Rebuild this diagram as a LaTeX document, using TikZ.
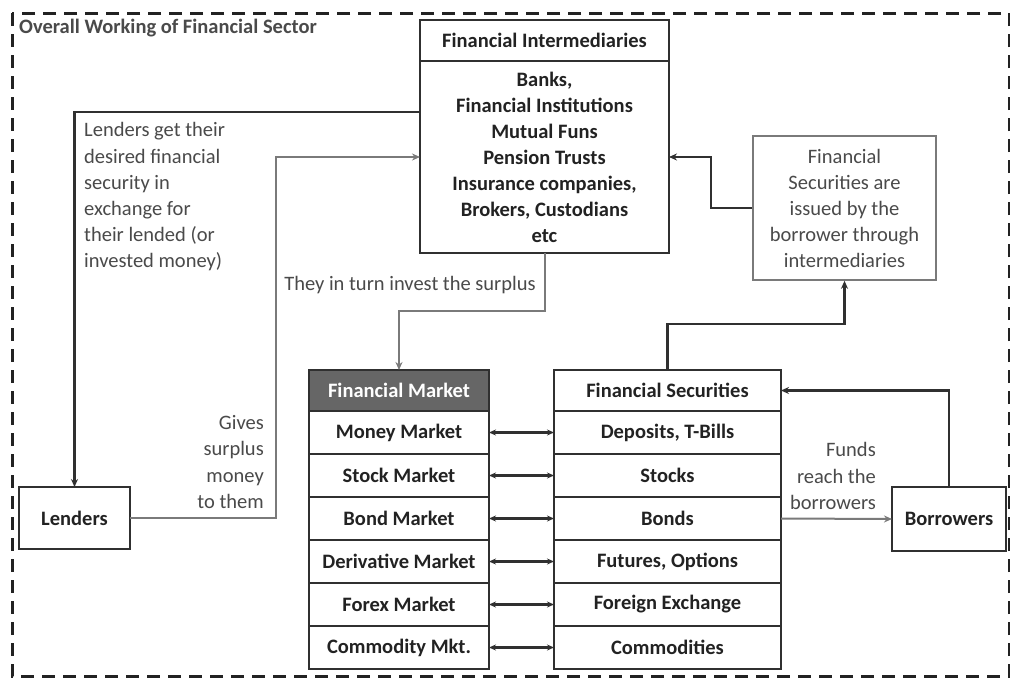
\documentclass[tikz,border=0pt]{standalone}
\usepackage{fontspec}
\setmainfont{Carlito}
\usetikzlibrary{arrows.meta,positioning}
\definecolor{ink}{HTML}{222222}
\definecolor{linedark}{HTML}{303030}
\definecolor{linegray}{HTML}{7A7A7A}
\definecolor{txtgray}{HTML}{4A4A4A}
\definecolor{hdrfill}{HTML}{666666}
\tikzset{
  box/.style={draw=linedark, line width=2.6pt, text=ink, font=\fontsize{20.5}{26}\selectfont\bfseries, align=center, inner sep=0pt, outer sep=0pt},
  thinbox/.style={draw=linegray, line width=1.6pt, text=txtgray, font=\fontsize{20.5}{26}\selectfont, align=center, inner sep=0pt},
  note/.style={text=txtgray, font=\fontsize{20.5}{26.2}\selectfont, inner sep=0pt},
  darr/.style={draw=linedark, line width=2.4pt, -{Stealth[length=8pt,width=7pt]}},
  garr/.style={draw=linegray, line width=2pt, -{Stealth[length=8pt,width=7pt]}},
  dbl/.style={draw=linedark, line width=2.2pt, {Stealth[length=7pt,width=6pt]}-{Stealth[length=7pt,width=6pt]}},
}
\begin{document}
\begin{tikzpicture}[x=1pt,y=-1pt]
\useasboundingbox (0,0) rectangle (1010,678);
\fill[white] (0,0) rectangle (1010,678);
% frame
\draw[draw=ink, line width=3pt, dash pattern=on 13pt off 8pt] (12,13) rectangle (1009,676);
\node[anchor=west, text=txtgray, font=\fontsize{20.5}{22}\selectfont\bfseries, inner sep=0pt] (title) at (19,28) {Overall Working of Financial Sector};

% Financial intermediaries
\node[box, minimum width=249pt, minimum height=41pt] (fihead) at (544.5,40.5) {Financial Intermediaries};
\node[box, minimum width=249pt, minimum height=192pt] (fibody) at (544.5,157) {Banks,\\Financial Institutions\\Mutual Funs\\Pension Trusts\\Insurance companies,\\Brokers, Custodians\\etc};

% issued box
\node[thinbox, minimum width=183pt, minimum height=144pt] (issued) at (844.5,208) {Financial\\Securities are\\issued by the\\borrower through\\intermediaries};

% lenders / borrowers
\node[box, minimum width=111pt, minimum height=62pt] (lenders) at (74.5,518) {Lenders};
\node[box, minimum width=114pt, minimum height=64pt] (borrowers) at (949,519) {Borrowers};

% Financial market column
\node[box, fill=hdrfill, text=white, minimum width=180pt, minimum height=41pt] (mkthead) at (399,390.5) {Financial Market};
\node[box, minimum width=180pt, minimum height=43pt] (m1) at (399,432.5) {Money Market};
\node[box, minimum width=180pt, minimum height=43pt] (m2) at (399,475.5) {Stock Market};
\node[box, minimum width=180pt, minimum height=43pt] (m3) at (399,518.5) {Bond Market};
\node[box, minimum width=180pt, minimum height=43pt] (m4) at (399,561.5) {Derivative Market};
\node[box, minimum width=180pt, minimum height=43pt] (m5) at (399,604.5) {Forex Market};
\node[box, minimum width=180pt, minimum height=43pt] (m6) at (399,647.5) {Commodity Mkt.};

% Financial securities column
\node[box, minimum width=227pt, minimum height=41pt] (sechead) at (667.5,390.5) {Financial Securities};
\node[box, minimum width=227pt, minimum height=43pt] (s1) at (667.5,432.5) {Deposits, T-Bills};
\node[box, minimum width=227pt, minimum height=43pt] (s2) at (667.5,475.5) {Stocks};
\node[box, minimum width=227pt, minimum height=43pt] (s3) at (667.5,518.5) {Bonds};
\node[box, minimum width=227pt, minimum height=43pt] (s4) at (667.5,561.5) {Futures, Options};
\node[box, minimum width=227pt, minimum height=43pt] (s5) at (667.5,604.5) {Foreign Exchange};
\node[box, minimum width=227pt, minimum height=43pt] (s6) at (667.5,647.5) {Commodities};

% double arrows
\foreach \i in {1,...,6} {
  \draw[dbl] (m\i.east) -- (s\i.west);
}

% notes
\node[note, anchor=west, align=left] (n1) at (84,197) {Lenders get their\\desired financial\\security in\\exchange for\\their lended (or\\invested money)};
\node[note, anchor=east, align=right] (n2) at (264,462) {Gives\\surplus\\money\\to them};
\node[note] (n3) at (410,285) {They in turn invest the surplus};
\node[note, anchor=east, align=right] (n4) at (876,476) {Funds\\reach the\\borrowers};

% connectors
\coordinate (g1) at (276,157);
\coordinate (k1) at (711,157);
\draw[darr] ([yshift=45pt]fibody.west) -| (lenders.north);
\draw[garr] (lenders.east) -| (g1) -- (fibody.west);
\draw[garr] (fibody.south) -- ++(0,58) -| (mkthead.north);
\draw[darr] (sechead.north) -- ++(0,-46) -| (issued.south);
\draw[darr] (issued.west) -| (k1) -- (fibody.east);
\draw[garr] (s3.east) -- (borrowers.west);
\draw[darr] (borrowers.north) |- (sechead.east);
\end{tikzpicture}
\end{document}
